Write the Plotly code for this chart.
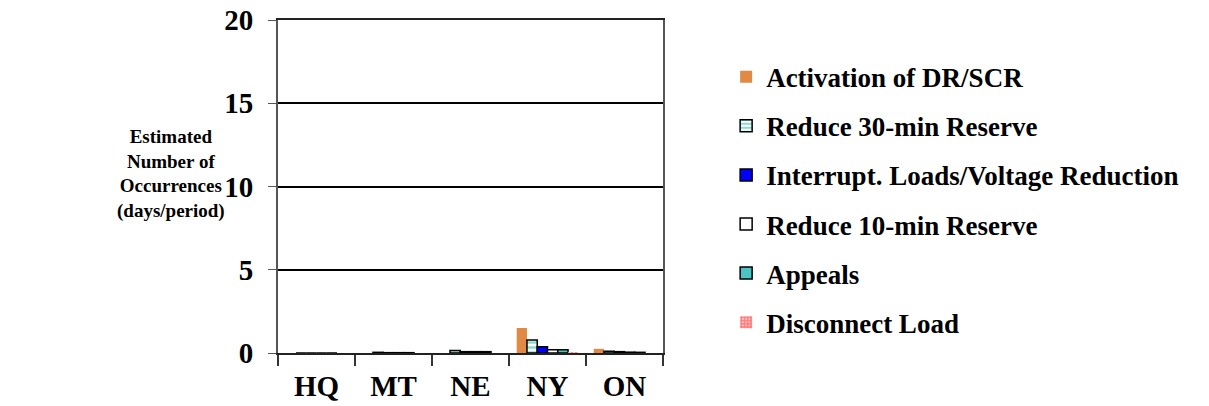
import plotly.graph_objects as go

# Data
regions = ["HQ", "MT", "NE", "NY", "ON"]
activation_dr_scr = [0.0, 0.0, 0.0, 1.5, 0.25]
reduce_30min = [0.0, 0.04, 0.15, 0.78, 0.1]
interrupt_loads = [0.0, 0.02, 0.08, 0.38, 0.08]
reduce_10min = [0.0, 0.02, 0.08, 0.2, 0.05]
appeals = [0.0, 0.02, 0.08, 0.2, 0.04]
disconnect_load = [0.0, 0.0, 0.0, 0.06, 0.0]
y_ticks = [0, 5, 10, 15, 20]

FONT = "Liberation Serif"

series = [
    ("Activation of DR/SCR", activation_dr_scr,
     dict(color="#E08A45", line=dict(color="#E08A45", width=0))),
    ("Reduce 30-min Reserve", reduce_30min,
     dict(color="white", line=dict(color="black", width=1.5),
          pattern=dict(shape="-", fgcolor="#10C0A0", bgcolor="white", size=5, solidity=0.5))),
    ("Interrupt. Loads/Voltage Reduction", interrupt_loads,
     dict(color="#0000FF", line=dict(color="black", width=1.5))),
    ("Reduce 10-min Reserve", reduce_10min,
     dict(color="white", line=dict(color="black", width=1.5))),
    ("Appeals", appeals,
     dict(color="#4CC4C4", line=dict(color="black", width=1.5))),
    ("Disconnect Load", disconnect_load,
     dict(color="white", line=dict(color="white", width=0),
          pattern=dict(shape=".", fgcolor="#FF0000", bgcolor="white", size=4, solidity=0.8))),
]

fig = go.Figure()
for i, (name, vals, marker) in enumerate(series):
    fig.add_trace(go.Bar(x=regions, y=vals, name=name, marker=marker,
                         legendgroup=f"g{i}"))

# the page body adds ~8px, so margins are shifted to compensate
fig.update_layout(
    width=1209, height=406,
    margin=dict(l=270, r=554, t=12, b=61),
    plot_bgcolor="white", paper_bgcolor="white",
    barmode="group", bargap=0.2, bargroupgap=0,
    font=dict(family=FONT, color="black"),
    showlegend=True,
    legend=dict(x=1.164, y=0.902, xanchor="left", yanchor="top",
                font=dict(family=FONT, size=27, color="black", weight="bold"),
                traceorder="grouped", tracegroupgap=11,
                itemwidth=30, bgcolor="rgba(0,0,0,0)"),
)

fig.update_xaxes(
    automargin=False,
    showline=True, linecolor="#222", linewidth=2, mirror=True,
    ticks="outside", tickson="boundaries", ticklen=11, tickcolor="#333", tickwidth=1.5,
    tickfont=dict(family=FONT, size=29, weight="bold", color="black"),
    ticklabelstandoff=6,
    showgrid=False,
)
fig.update_yaxes(
    automargin=False,
    range=[0, 20], tickvals=y_ticks,
    showline=True, linecolor="#555", linewidth=2, mirror=True,
    showgrid=True, gridcolor="black", gridwidth=1.5,
    ticks="outside", ticklen=8, tickcolor="#555",
    tickfont=dict(family=FONT, size=29, weight="bold", color="black"),
    ticklabelstandoff=9, ticklabeloverflow="allow",
    zeroline=False,
)

fig.add_annotation(
    text="Estimated<br>Number of<br>Occurrences<br>(days/period)",
    xref="paper", yref="paper", x=-0.278, y=0.537,
    xanchor="center", yanchor="middle", showarrow=False, align="center",
    font=dict(family=FONT, size=19, weight="bold", color="black"),
)

fig.write_html("out.html")
